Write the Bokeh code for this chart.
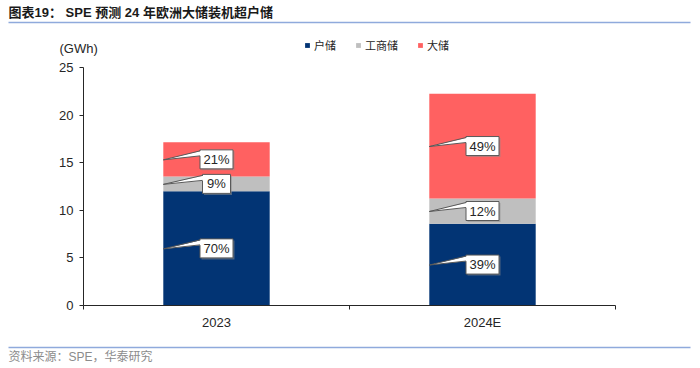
from bokeh.plotting import figure
from bokeh.models import (Range1d, FixedTicker, LinearAxis, Label, Arrow,
                          ColumnDataSource)
from bokeh.core.properties import value
from bokeh.embed import file_html
from bokeh.resources import INLINE

# ---- data ----
categories = ["2023", "2024E"]
series_names = ["户储", "工商储", "大储"]
home = [12.0, 8.6]         # 户储
commercial = [1.55, 2.65]  # 工商储
utility = [3.6, 11.0]      # 大储
y_ticks = [0, 5, 10, 15, 20, 25]

colors = ["#023474", "#BFBFBF", "#FF6161"]

# ---- layout (page pixels) ----
W, H = 698, 366
AX_L, AX_R = 83, 615     # x of category-axis start / end
AX_T, AX_B = 67, 305     # y of value 25 / value 0
XA, XB = -0.5, len(categories) - 0.5
YA, YB = 0, 25
PXX = (AX_R - AX_L) / (XB - XA)
PXY = (AX_B - AX_T) / (YB - YA)
BAR_W = 0.4

x_range = Range1d(XA - AX_L / PXX, XB + (W - AX_R) / PXX)
y_range = Range1d(YA - (H - AX_B) / PXY, YB + AX_T / PXY)

xs = list(range(len(categories)))
src = ColumnDataSource(dict(x=xs, home=home, commercial=commercial, utility=utility))

p = figure(width=W, height=H, output_backend="svg", toolbar_location=None,
           x_range=x_range, y_range=y_range,
           min_border=0, min_border_left=0, min_border_right=0,
           min_border_top=0, min_border_bottom=0,
           background_fill_color="white", border_fill_color="white",
           outline_line_color=None)
p.grid.visible = False

p.vbar_stack(["home", "commercial", "utility"], x="x", width=BAR_W, source=src,
             color=colors, line_color=None, legend_label=series_names)

# ---- axes ----
AX_COLOR = "#262626"
LAB_FONT = "Liberation Sans"
ya = p.yaxis[0]
ya.fixed_location = XA
ya.bounds = (YA, YB)
ya.ticker = FixedTicker(ticks=y_ticks)
ya.axis_line_color = AX_COLOR
ya.major_tick_line_color = AX_COLOR
ya.major_tick_in = 0
ya.major_tick_out = 4
ya.minor_tick_line_color = None
ya.major_label_text_font = LAB_FONT
ya.major_label_text_font_size = "13px"
ya.major_label_text_color = "#262626"
ya.major_label_standoff = 6

xa = p.xaxis[0]
xa.fixed_location = YA
xa.bounds = (XA, XB)
xa.ticker = FixedTicker(ticks=[XA + i for i in range(len(categories) + 1)])
xa.axis_line_color = AX_COLOR
xa.major_tick_line_color = AX_COLOR
xa.major_tick_in = 0
xa.major_tick_out = 4
xa.minor_tick_line_color = None
xa.major_label_text_font_size = "1px"
xa.major_label_text_alpha = 0
xa.major_label_standoff = 0

xa2 = LinearAxis(ticker=FixedTicker(ticks=xs), fixed_location=YA,
                 major_label_overrides={i: c for i, c in zip(xs, categories)},
                 axis_line_color=None, major_tick_line_color=None,
                 minor_tick_line_color=None, major_tick_in=0, major_tick_out=0,
                 major_label_text_font=LAB_FONT, major_label_text_font_size="13px",
                 major_label_text_color="#262626", major_label_standoff=9)
p.add_layout(xa2, "below")

# ---- legend ----
def sx(px): return px
def sy(py): return H - py

lg = p.legend[0]
lg.orientation = "horizontal"
lg.location = (sx(304), sy(45.5) - 7)
lg.glyph_width = 6
lg.glyph_height = 6
lg.label_standoff = 4
lg.spacing = 19
lg.padding = 0
lg.margin = 0
lg.border_line_color = None
lg.background_fill_alpha = 0
lg.label_text_font = "Noto Sans CJK SC"
lg.label_text_font_size = "11px"
lg.label_text_color = "#262626"
lg.label_height = 12

# ---- callouts ----
bx, by, bw, tl = [], [], [], []
wx, wy = [], []
l1x, l1y = [], []
for i in xs:
    vals = [home[i], commercial[i], utility[i]]
    tot = sum(vals)
    base = 0.0
    for v in vals:
        mid = base + v / 2
        base += v
        txt = f"{round(v / tot * 100)}%"
        w = 5 * len(txt) + 18
        bx.append(i); by.append(mid); bw.append(w); tl.append(txt)
        tipx, tipy = i - BAR_W / 2, mid - 0.5 / PXY
        left = i - (w / 2) / PXX
        y_a, y_b = mid + 8.5 / PXY, mid + 3.5 / PXY
        wx.append([tipx, left + 2 / PXX, left + 2 / PXX])
        wy.append([tipy, y_a, y_b])
        l1x += [[tipx, left], [tipx, left]]
        l1y += [[tipy, y_a], [tipy, y_b]]

cs = ColumnDataSource(dict(x=bx, y=by, w=bw, t=tl,
                           xs=[x + 1.5 / PXX for x in bx],
                           ys=[y - 1.5 / PXY for y in by]))
p.rect(x="xs", y="ys", width="w", height=19, width_units="screen",
       height_units="screen", source=cs, fill_color="#8c8c8c", fill_alpha=0.55,
       line_color=None)
p.rect(x="x", y="y", width="w", height=19, width_units="screen",
       height_units="screen", source=cs, fill_color="white",
       line_color="#595959", line_width=1)
p.patches(wx, wy, fill_color="white", line_color=None)
p.multi_line(l1x, l1y, line_color="#595959", line_width=1)
p.text(x="x", y="y", text="t", source=cs, text_align="center",
       text_baseline="middle", text_font=value(LAB_FONT),
       text_font_size="13px", text_color="#262626")

# ---- title, unit, source, rules ----
p.add_layout(Label(x=sx(8), y=sy(12), x_units="screen", y_units="screen",
                   text="图表19：  SPE 预测 24 年欧洲大储装机超户储",
                   text_font="'Liberation Sans', 'Noto Sans CJK SC'",
                   text_font_style="bold",
                   text_font_size="13px", text_color="#1a1a1a",
                   text_baseline="middle"))
p.add_layout(Label(x=sx(59), y=sy(48), x_units="screen", y_units="screen",
                   text="(GWh)", text_font=LAB_FONT, text_font_size="13px",
                   text_color="#262626", text_baseline="middle"))
p.add_layout(Label(x=sx(8), y=sy(356), x_units="screen", y_units="screen",
                   text="资料来源：SPE，华泰研究",
                   text_font="'Liberation Sans', 'Noto Sans CJK SC'",
                   text_font_size="12px", text_color="#8c8c8c",
                   text_baseline="middle"))
for py in (22, 347):
    p.add_layout(Arrow(start=None, end=None, x_start=sx(8), y_start=sy(py),
                       x_end=sx(690), y_end=sy(py), start_units="screen",
                       end_units="screen", line_color="#8FAADC", line_width=1.5))

open("out.html", "w").write(file_html(p, INLINE))
